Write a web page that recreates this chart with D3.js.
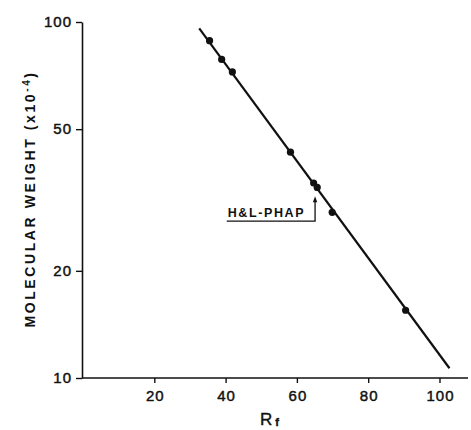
<!DOCTYPE html>
<html>
<head>
<meta charset="utf-8">
<script src="https://cdn.jsdelivr.net/npm/d3@7"></script>
<style>
  html, body { margin: 0; padding: 0; background: #fff; }
  svg { display: block; }
  text { font-family: "Liberation Sans", Arial, sans-serif; fill: #111; }
</style>
</head>
<body>
<div id="chart"></div>
<script>
// Calibration of electrophoretic mobility (Rf) against molecular weight
const rfValues = [35.5, 38.9, 41.9, 58.2, 64.7, 65.7, 69.9, 90.5];
const mwValues = [88.6, 78.5, 72.4, 43.1, 35.3, 34.3, 29.2, 15.5];

// Fitted regression line endpoints
const fitRf = [32.6, 102.8];
const fitMw = [96.0, 10.65];

// Axis ticks
const xTicks = [20, 40, 60, 80, 100];
const yTicks = [10, 20, 50, 100];

// Annotation: label with an arrow pointing at the H&L-PHAP band
const noteText = "H&L-PHAP";
const noteRf = [40.6, 65.1];   // label start, arrow shaft
const noteMw = [27.6, 32.4];   // underline level, arrow tip

const width = 471, height = 430;
const margin = { left: 82, top: 22, bottom: 52 };

const svg = d3.select("#chart").append("svg")
  .attr("width", width).attr("height", height);

const x = d3.scaleLinear().domain([0, 108]).range([margin.left + 1, 468]);
const y = d3.scaleLog().domain([10, 100]).range([height - margin.bottom, margin.top]);

// x axis
const xAxis = svg.append("g")
  .attr("transform", `translate(0,${y(10)})`)
  .call(d3.axisBottom(x).tickValues(xTicks).tickSize(5).tickPadding(7).tickSizeOuter(0));
xAxis.select(".domain").attr("stroke", "#111").attr("stroke-width", 1.6)
  .attr("d", `M${margin.left},0H${x(108)}`);
xAxis.selectAll(".tick line").attr("stroke", "#111").attr("stroke-width", 1.4);
xAxis.selectAll(".tick text")
  .style("font-size", "15px").style("letter-spacing", "1px")
  .attr("fill", "#111").attr("stroke", "#111").attr("stroke-width", 0.45)
  .attr("dx", "0.5px");

// y axis
const yAxis = svg.append("g")
  .attr("transform", `translate(${margin.left},0)`)
  .call(d3.axisLeft(y).tickValues(yTicks).tickFormat(d3.format("d"))
    .tickSize(6).tickPadding(4).tickSizeOuter(0));
yAxis.select(".domain").attr("stroke", "#111").attr("stroke-width", 1.6);
yAxis.selectAll(".tick line").attr("stroke", "#111").attr("stroke-width", 1.4);
yAxis.selectAll(".tick text")
  .style("font-size", "15px").style("letter-spacing", "1px")
  .attr("fill", "#111").attr("stroke", "#111").attr("stroke-width", 0.45);

// Regression line
const line = d3.line().x(d => x(d[0])).y(d => y(d[1]));
svg.append("path")
  .datum(d3.zip(fitRf, fitMw))
  .attr("d", line)
  .attr("fill", "none")
  .attr("stroke", "#111")
  .attr("stroke-width", 2.2);

// Data points
svg.append("g").selectAll("circle")
  .data(d3.zip(rfValues, mwValues))
  .join("circle")
  .attr("cx", d => x(d[0]))
  .attr("cy", d => y(d[1]))
  .attr("r", 3.6)
  .attr("fill", "#111");

// Annotation
const note = svg.append("g");
note.append("text")
  .attr("x", x(noteRf[0]))
  .attr("y", y(noteMw[0]) - 4)
  .style("font-size", "12.5px")
  .style("font-weight", "bold")
  .style("letter-spacing", "1.6px")
  .text(noteText);
note.append("path")
  .attr("d", `M${x(noteRf[0]) - 1},${y(noteMw[0])}H${x(noteRf[1])}V${y(noteMw[1]) + 4}`)
  .attr("fill", "none").attr("stroke", "#111").attr("stroke-width", 1.3);
note.append("path")
  .attr("d", `M${x(noteRf[1]) - 2.2},${y(noteMw[1]) + 6}L${x(noteRf[1])},${y(noteMw[1])}L${x(noteRf[1]) + 2.2},${y(noteMw[1]) + 6}Z`)
  .attr("fill", "#111");

// Axis titles
svg.append("text")
  .attr("transform", `translate(35,${(65 + 333) / 2}) rotate(-90)`)
  .attr("text-anchor", "middle")
  .style("font-size", "14px")
  .style("letter-spacing", "2.6px")
  .style("font-weight", "bold")
  .html('MOLECULAR WEIGHT (x10<tspan dy="-5" font-size="10px">-4</tspan><tspan dy="5">)</tspan>');

const rf = svg.append("text")
  .attr("x", 260)
  .attr("y", 425)
  .attr("stroke", "#111").attr("stroke-width", 0.4)
  .style("font-size", "17px");
rf.append("tspan").text("R");
rf.append("tspan").attr("dx", 3).attr("dy", 1).style("font-size", "11px").style("font-weight", "bold").text("f");
</script>
</body>
</html>
